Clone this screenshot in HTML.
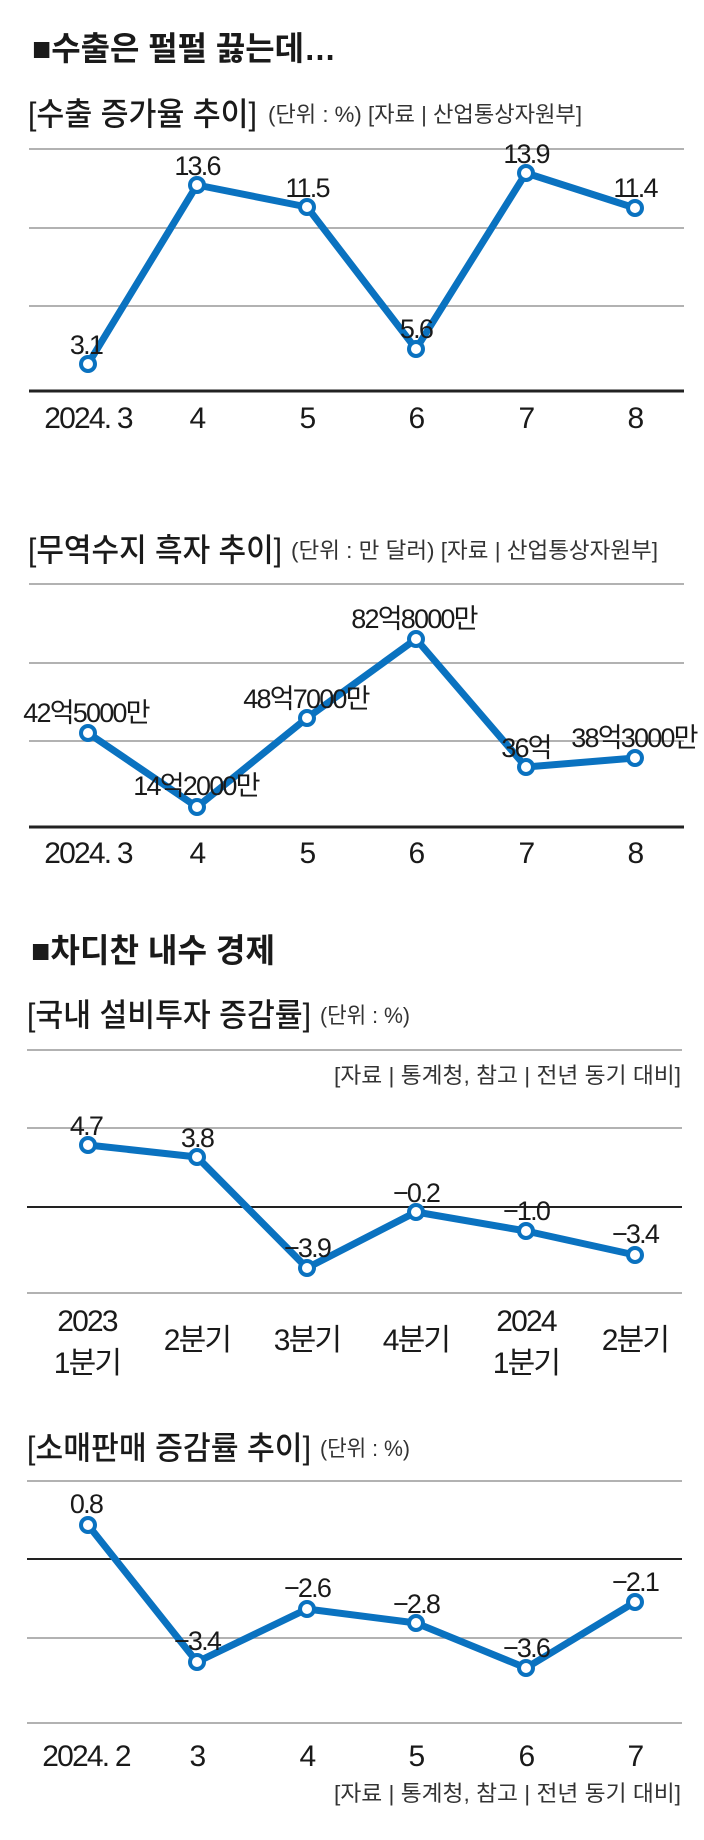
<!DOCTYPE html>
<html><head><meta charset="utf-8"><style>
html,body{margin:0;padding:0;background:#fff;}
svg{display:block;}
text{font-family:"Liberation Sans","Noto Sans CJK KR",sans-serif;fill:#1a1a1a;}
.h{font-size:33px;font-weight:bold;}
.s{font-size:32px;font-weight:500;}
.u{font-size:22px;fill:#333;}
.v{font-size:27px;letter-spacing:-1.8px;text-anchor:middle;}
.x{font-size:30px;letter-spacing:-1.8px;text-anchor:middle;fill:#333;}
.g{stroke:#999;stroke-width:1.5;}
.a{stroke:#222;stroke-width:3;}
.z{stroke:#222;stroke-width:2;}
.l{fill:none;stroke:#0a72c0;stroke-width:7;stroke-linejoin:round;}
.c{fill:#fff;stroke:#0a72c0;stroke-width:4;}
</style></head><body>
<svg width="704" height="1840" viewBox="0 0 704 1840" xmlns="http://www.w3.org/2000/svg">
<!-- Chart 1 -->
<text class="h" x="32" y="60" textLength="304" lengthAdjust="spacingAndGlyphs">■수출은 펄펄 끓는데…</text>
<text class="s" x="28" y="125" textLength="229" lengthAdjust="spacingAndGlyphs">[수출 증가율 추이]</text>
<text class="u" x="268" y="122" textLength="314" lengthAdjust="spacingAndGlyphs">(단위 : %) [자료 | 산업통상자원부]</text>
<line class="g" x1="29" y1="149" x2="684" y2="149"/>
<line class="g" x1="29" y1="228" x2="684" y2="228"/>
<line class="g" x1="29" y1="306" x2="684" y2="306"/>
<line class="a" x1="29" y1="391" x2="684" y2="391"/>
<polyline class="l" points="88,364 197,185 307,207 416,349 526,173 635,208"/>
<g class="c"><circle cx="88" cy="364" r="7"/><circle cx="197" cy="185" r="7"/><circle cx="307" cy="207" r="7"/><circle cx="416" cy="349" r="7"/><circle cx="526" cy="173" r="7"/><circle cx="635" cy="208" r="7"/></g>
<text class="v" x="86" y="354">3.1</text>
<text class="v" x="197" y="175">13.6</text>
<text class="v" x="307" y="197">11.5</text>
<text class="v" x="416" y="338">5.6</text>
<text class="v" x="526" y="163">13.9</text>
<text class="v" x="635" y="197">11.4</text>
<g class="x"><text x="88" y="428">2024. 3</text><text x="197" y="428">4</text><text x="307" y="428">5</text><text x="416" y="428">6</text><text x="526" y="428">7</text><text x="635" y="428">8</text></g>

<!-- Chart 2 -->
<text class="s" x="28" y="561" textLength="254" lengthAdjust="spacingAndGlyphs">[무역수지 흑자 추이]</text>
<text class="u" x="291" y="558" textLength="367" lengthAdjust="spacingAndGlyphs">(단위 : 만 달러) [자료 | 산업통상자원부]</text>
<line class="g" x1="29" y1="584" x2="684" y2="584"/>
<line class="g" x1="29" y1="663" x2="684" y2="663"/>
<line class="g" x1="29" y1="741" x2="684" y2="741"/>
<line class="a" x1="29" y1="827" x2="684" y2="827"/>
<polyline class="l" points="88,733 197,807 307,718 416,639 526,767 635,758"/>
<g class="c"><circle cx="88" cy="733" r="7"/><circle cx="197" cy="807" r="7"/><circle cx="307" cy="718" r="7"/><circle cx="416" cy="639" r="7"/><circle cx="526" cy="767" r="7"/><circle cx="635" cy="758" r="7"/></g>
<text class="v" x="86" y="722">42억5000만</text>
<text class="v" x="196" y="795">14억2000만</text>
<text class="v" x="306" y="708">48억7000만</text>
<text class="v" x="414" y="628">82억8000만</text>
<text class="v" x="526" y="757">36억</text>
<text class="v" x="634" y="747">38억3000만</text>
<g class="x"><text x="88" y="863">2024. 3</text><text x="197" y="863">4</text><text x="307" y="863">5</text><text x="416" y="863">6</text><text x="526" y="863">7</text><text x="635" y="863">8</text></g>

<!-- Chart 3 -->
<text class="h" x="31" y="962" textLength="244" lengthAdjust="spacingAndGlyphs">■차디찬 내수 경제</text>
<text class="s" x="27" y="1026" textLength="284" lengthAdjust="spacingAndGlyphs">[국내 설비투자 증감률]</text>
<text class="u" x="320" y="1023" textLength="90" lengthAdjust="spacingAndGlyphs">(단위 : %)</text>
<line class="g" x1="27" y1="1050" x2="682" y2="1050"/>
<text class="u" x="334" y="1083" textLength="347" lengthAdjust="spacingAndGlyphs">[자료 | 통계청, 참고 | 전년 동기 대비]</text>
<line class="g" x1="27" y1="1128" x2="682" y2="1128"/>
<line class="z" x1="27" y1="1207" x2="682" y2="1207"/>
<line class="g" x1="27" y1="1293" x2="682" y2="1293"/>
<polyline class="l" points="88,1145 197,1157 307,1268 416,1212 526,1231 635,1255"/>
<g class="c"><circle cx="88" cy="1145" r="7"/><circle cx="197" cy="1157" r="7"/><circle cx="307" cy="1268" r="7"/><circle cx="416" cy="1212" r="7"/><circle cx="526" cy="1231" r="7"/><circle cx="635" cy="1255" r="7"/></g>
<text class="v" x="86" y="1135">4.7</text>
<text class="v" x="197" y="1147">3.8</text>
<text class="v" x="307" y="1257">−3.9</text>
<text class="v" x="416" y="1202">−0.2</text>
<text class="v" x="526" y="1220">−1.0</text>
<text class="v" x="635" y="1243">−3.4</text>
<g class="x">
<text x="87" y="1331">2023</text><text x="87" y="1373">1분기</text>
<text x="197" y="1350">2분기</text><text x="307" y="1350">3분기</text><text x="416" y="1350">4분기</text>
<text x="526" y="1331">2024</text><text x="526" y="1373">1분기</text>
<text x="635" y="1350">2분기</text>
</g>

<!-- Chart 4 -->
<text class="s" x="27" y="1459" textLength="284" lengthAdjust="spacingAndGlyphs">[소매판매 증감률 추이]</text>
<text class="u" x="320" y="1456" textLength="90" lengthAdjust="spacingAndGlyphs">(단위 : %)</text>
<line class="g" x1="27" y1="1481" x2="682" y2="1481"/>
<line class="z" x1="27" y1="1559" x2="682" y2="1559"/>
<line class="g" x1="27" y1="1638" x2="682" y2="1638"/>
<line class="g" x1="27" y1="1723" x2="682" y2="1723"/>
<polyline class="l" points="88,1525 197,1662 307,1609 416,1623 526,1668 635,1602"/>
<g class="c"><circle cx="88" cy="1525" r="7"/><circle cx="197" cy="1662" r="7"/><circle cx="307" cy="1609" r="7"/><circle cx="416" cy="1623" r="7"/><circle cx="526" cy="1668" r="7"/><circle cx="635" cy="1602" r="7"/></g>
<text class="v" x="86" y="1513">0.8</text>
<text class="v" x="197" y="1650">−3.4</text>
<text class="v" x="307" y="1597">−2.6</text>
<text class="v" x="416" y="1613">−2.8</text>
<text class="v" x="526" y="1657">−3.6</text>
<text class="v" x="635" y="1591">−2.1</text>
<g class="x"><text x="86" y="1766">2024. 2</text><text x="197" y="1766">3</text><text x="307" y="1766">4</text><text x="416" y="1766">5</text><text x="526" y="1766">6</text><text x="635" y="1766">7</text></g>
<text class="u" x="334" y="1801" textLength="347" lengthAdjust="spacingAndGlyphs">[자료 | 통계청, 참고 | 전년 동기 대비]</text>
</svg>
</body></html>
